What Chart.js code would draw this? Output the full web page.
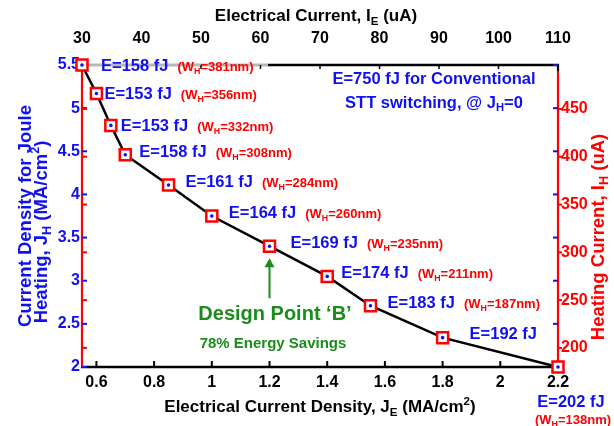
<!DOCTYPE html>
<html>
<head>
<meta charset="utf-8">
<script src="https://cdn.jsdelivr.net/npm/chart.js@4.4.1/dist/chart.umd.min.js"></script>
<style>
  html, body { margin: 0; padding: 0; background: #fff; }
  #wrap { width: 614px; height: 426px; }
</style>
</head>
<body>
<div id="wrap"><canvas id="c" width="614" height="426"></canvas></div>
<script>
// Electrical current density J_E (MA/cm^2) of each design point
const currentDensityE = [0.55, 0.60, 0.65, 0.70, 0.85, 1.00, 1.20, 1.40, 1.55, 1.80, 2.20];
// Joule-heating current density J_H (MA/cm^2) of each design point
const currentDensityH = [5.50, 5.17, 4.80, 4.46, 4.11, 3.75, 3.40, 3.05, 2.71, 2.34, 2.00];
// Switching energy (fJ)
const switchingEnergy = [158, 153, 153, 158, 161, 164, 169, 174, 183, 192, 202];
// Heater width W_H (nm); null where no width is annotated
const heaterWidth = [381, 356, 332, 308, 284, 260, 235, 211, 187, null, 138];

// Tick values of the four axes
const densityTicksE = [0.6, 0.8, 1, 1.2, 1.4, 1.6, 1.8, 2, 2.2];
const currentTicksE = [30, 40, 50, 60, 70, 80, 90, 100, 110];
const densityTicksH = [2, 2.5, 3, 3.5, 4, 4.5, 5, 5.5];
const currentTicksH = [200, 250, 300, 350, 400, 450];

// Label placement relative to each marker (pixels)
const labelDx = [19, 8, 10, 14, 17, 17, 21, 14, 17, 27, 13];
const labelDy = [0, 0, 0, -4, -4, -4, -4, -4, -4, -5, 34];

const FONT = '"Liberation Sans", Arial, Helvetica, sans-serif';
const BLUE = '#1010f0';
const RED = '#ff0000';
const GREEN = '#1b8c1b';
const BLACK = '#000000';

// Draw a run of text pieces where some are sub- or superscripts; y is the baseline
function richWidth(ctx, parts, size) {
  let w = 0;
  for (const p of parts) {
    const s = (p.sub || p.sup) ? size * 0.68 : size;
    ctx.font = `bold ${s}px ${FONT}`;
    w += ctx.measureText(p.t).width;
  }
  return w;
}
function drawRich(ctx, parts, x, y, size, color, align) {
  const w = richWidth(ctx, parts, size);
  let cx = align === 'center' ? x - w / 2 : (align === 'right' ? x - w : x);
  ctx.fillStyle = color;
  ctx.textBaseline = 'alphabetic';
  ctx.textAlign = 'left';
  for (const p of parts) {
    const s = (p.sub || p.sup) ? size * 0.68 : size;
    ctx.font = `bold ${s}px ${FONT}`;
    const dy = p.sub ? size * 0.22 : (p.sup ? -size * 0.42 : 0);
    ctx.fillText(p.t, cx, y + dy);
    cx += ctx.measureText(p.t).width;
  }
  return w;
}
function drawRotated(ctx, parts, x, y, size, color) {
  ctx.save();
  ctx.translate(x, y);
  ctx.rotate(-Math.PI / 2);
  drawRich(ctx, parts, 0, 0, size, color, 'center');
  ctx.restore();
}

function line(ctx, x1, y1, x2, y2, color, w) {
  ctx.beginPath();
  ctx.moveTo(x1, y1);
  ctx.lineTo(x2, y2);
  ctx.strokeStyle = color;
  ctx.lineWidth = w;
  ctx.stroke();
}

// Axis frame and inward tick marks
const framePlugin = {
  id: 'frame',
  beforeDatasetsDraw(chart) {
    const { ctx, chartArea: a, scales } = chart;
    ctx.save();
    ctx.lineCap = 'butt';
    // top border (lighter where the first label sits)
    line(ctx, a.left, a.top, 268, a.top, '#b8b8b8', 3);
    line(ctx, 268, a.top, a.right + 1, a.top, BLACK, 2.5);
    // bottom border
    line(ctx, a.left - 1, a.bottom, a.right + 1, a.bottom, BLACK, 2.5);
    // left (red) and right borders
    line(ctx, a.left, a.top - 1, a.left, a.bottom, RED, 2.2);
    line(ctx, a.right, a.top - 1, a.right, a.top + 6, BLACK, 2.2);
    line(ctx, a.right, a.top + 6, a.right, a.bottom, RED, 2.2);

    for (const v of densityTicksE) {
      const x = scales.x.getPixelForValue(v);
      line(ctx, x, a.bottom, x, a.bottom - 6, BLACK, 2);
    }
    for (const v of currentTicksE) {
      const x = scales.xTop.getPixelForValue(v);
      line(ctx, x, a.top, x, a.top + 4, BLACK, 1.5);
    }
    for (const v of densityTicksH) {
      const y = scales.y.getPixelForValue(v);
      line(ctx, a.left, y, a.left + 5, y, BLUE, 2);
      line(ctx, a.right, y, a.right - 5, y, BLUE, 2);
    }
    for (const v of currentTicksH) {
      const y = scales.yRight.getPixelForValue(v);
      line(ctx, a.left, y, a.left + 5, y, RED, 2);
      line(ctx, a.right, y, a.right + 4, y, RED, 2);
    }
    ctx.restore();
  }
};

// Axis titles, point labels and annotations
const textPlugin = {
  id: 'texts',
  afterDraw(chart) {
    const { ctx, scales } = chart;
    ctx.save();

    // axis titles
    drawRich(ctx, [{ t: 'Electrical Current, I' }, { t: 'E', sub: true }, { t: ' (uA)' }],
      316, 21, 17, BLACK, 'center');
    drawRich(ctx, [{ t: 'Electrical Current Density, J' }, { t: 'E', sub: true }, { t: ' (MA/cm' }, { t: '2', sup: true }, { t: ')' }],
      320, 412, 17, BLACK, 'center');
    drawRotated(ctx, [{ t: 'Current Density for Joule' }], 31, 216, 18.5, BLUE);
    drawRotated(ctx, [{ t: 'Heating, J' }, { t: 'H', sub: true }, { t: ' (MA/cm' }, { t: '2', sup: true }, { t: ')' }],
      47, 232, 18.5, BLUE);
    drawRotated(ctx, [{ t: 'Heating Current, I' }, { t: 'H', sub: true }, { t: ' (uA)' }], 604, 237, 18.5, RED);

    // energy / heater-width labels next to each design point
    const last = currentDensityE.length - 1;
    currentDensityE.forEach((je, i) => {
      const px = scales.x.getPixelForValue(je);
      const py = scales.y.getPixelForValue(currentDensityH[i]);
      const eText = [{ t: 'E=' + switchingEnergy[i] + ' fJ' }];
      const wText = heaterWidth[i] == null ? null :
        [{ t: '(W' }, { t: 'H', sub: true }, { t: '=' + heaterWidth[i] + 'nm)' }];
      const base = py + labelDy[i] + 6;
      if (i === last) {
        const cx = px + labelDx[i];
        drawRich(ctx, eText, cx, base, 16.5, BLUE, 'center');
        if (wText) drawRich(ctx, wText, cx + 2, base + 17, 13, RED, 'center');
      } else {
        const x = px + labelDx[i];
        const w = drawRich(ctx, eText, x, base, 16.5, BLUE, 'left');
        if (wText) drawRich(ctx, wText, x + w + 9, base, 13, RED, 'left');
      }
    });

    // conventional STT reference note
    drawRich(ctx, [{ t: 'E=750 fJ for Conventional' }], 434, 83.5, 16.5, BLUE, 'center');
    drawRich(ctx, [{ t: 'STT switching, @ J' }, { t: 'H', sub: true }, { t: '=0' }], 434, 107.5, 16.5, BLUE, 'center');

    // design point callout
    const dpx = scales.x.getPixelForValue(currentDensityE[6]);
    const dpy = scales.y.getPixelForValue(currentDensityH[6]);
    line(ctx, dpx, dpy + 52, dpx, dpy + 20, GREEN, 2);
    ctx.beginPath();
    ctx.moveTo(dpx, dpy + 12);
    ctx.lineTo(dpx - 5, dpy + 21);
    ctx.lineTo(dpx + 5, dpy + 21);
    ctx.closePath();
    ctx.fillStyle = GREEN;
    ctx.fill();
    drawRich(ctx, [{ t: 'Design Point \u2018B\u2019' }], 275, 320, 20, GREEN, 'center');
    drawRich(ctx, [{ t: '78% Energy Savings' }], 273, 348, 15, GREEN, 'center');

    ctx.restore();
  }
};

const points = currentDensityE.map((x, i) => ({ x, y: currentDensityH[i] }));
const tickFont = { family: FONT, size: 16, weight: 'bold' };
const fixTicks = (vals) => (s) => { s.ticks = vals.map(v => ({ value: v })); };
const noGrid = { display: false, drawTicks: false };

new Chart(document.getElementById('c'), {
  type: 'line',
  data: {
    datasets: [
      {
        data: points, xAxisID: 'x', yAxisID: 'y', showLine: false,
        pointRadius: 1.8, pointBackgroundColor: BLUE, pointBorderWidth: 0,
        order: 0, clip: false
      },
      {
        data: points, xAxisID: 'x', yAxisID: 'y',
        borderColor: BLACK, borderWidth: 2.5, tension: 0, fill: false,
        pointStyle: 'rect', pointRadius: 7.8, pointBorderColor: RED,
        pointBackgroundColor: '#ffffff', pointBorderWidth: 2.5,
        order: 1, clip: false
      }
    ]
  },
  options: {
    responsive: false,
    animation: false,
    devicePixelRatio: 1,
    events: [],
    layout: { padding: 0 },
    plugins: { legend: { display: false }, tooltip: { enabled: false } },
    scales: {
      x: {
        type: 'linear', axis: 'x', position: 'bottom', min: 0.55, max: 2.2,
        afterBuildTicks: fixTicks(densityTicksE),
        afterFit(s) { s.height = 59; },
        grid: noGrid, border: { display: false },
        ticks: { color: BLACK, font: tickFont, padding: 6, maxRotation: 0, autoSkip: false, callback: v => String(v) }
      },
      xTop: {
        type: 'linear', axis: 'x', position: 'top', min: 30, max: 110,
        afterBuildTicks: fixTicks(currentTicksE),
        afterFit(s) { s.height = 65; },
        grid: noGrid, border: { display: false },
        ticks: { color: BLACK, font: tickFont, padding: 17, maxRotation: 0, autoSkip: false, callback: v => String(v) }
      },
      y: {
        type: 'linear', axis: 'y', position: 'left', min: 2, max: 5.5,
        afterBuildTicks: fixTicks(densityTicksH),
        afterFit(s) { s.width = 82; },
        grid: noGrid, border: { display: false },
        ticks: { color: BLUE, font: tickFont, padding: 2, autoSkip: false, callback: v => String(v) }
      },
      yRight: {
        type: 'linear', axis: 'y', position: 'right', min: 180, max: 496,
        afterBuildTicks: fixTicks(currentTicksH),
        afterFit(s) { s.width = 56; },
        grid: noGrid, border: { display: false },
        ticks: { color: RED, font: tickFont, padding: 3, autoSkip: false, callback: v => String(v) }
      }
    }
  },
  plugins: [framePlugin, textPlugin]
});
</script>
</body>
</html>
